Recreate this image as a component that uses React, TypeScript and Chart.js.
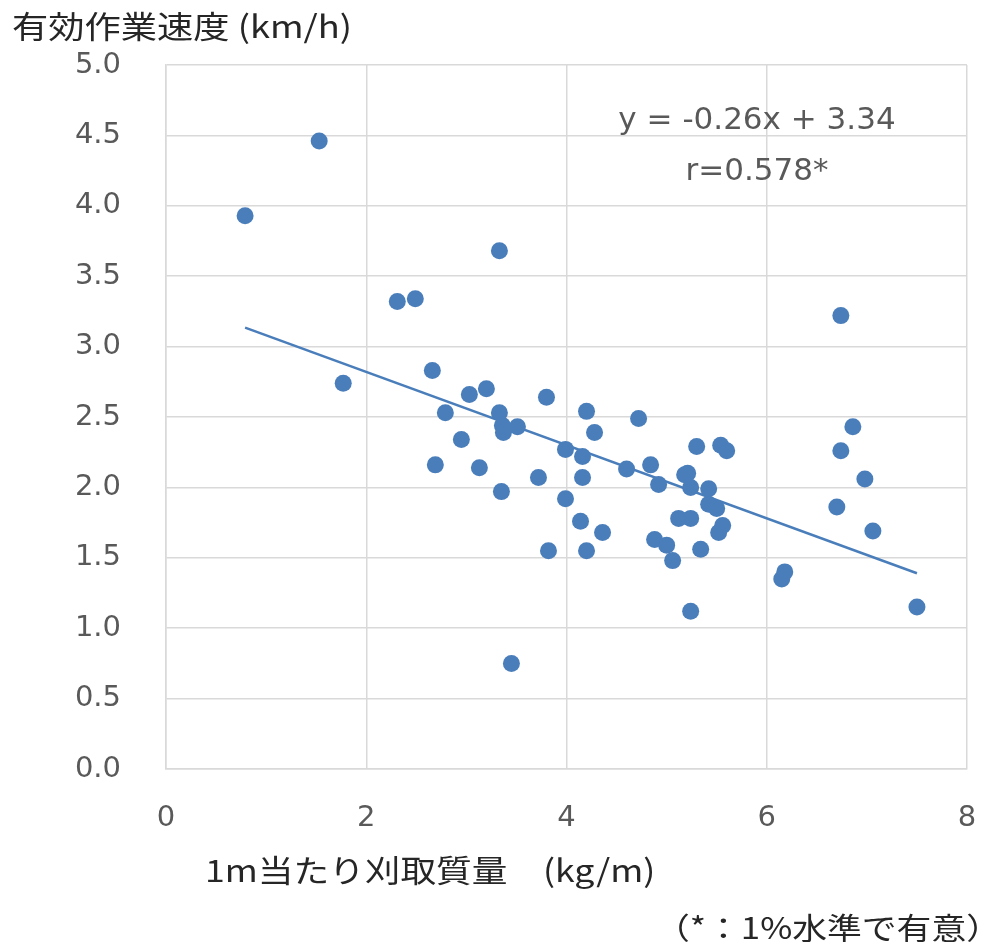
import React, { useEffect, useRef } from "react";
import { Chart, registerables } from "chart.js";

Chart.register(...registerables);

// 1m当たり刈取質量 (kg/m)
const xValues: number[] = [
  0.79, 1.53, 1.77, 2.31, 2.49, 3.33, 2.66, 2.79, 2.95, 2.69,
  3.03, 3.20, 3.13, 3.33, 3.36, 3.37, 3.51, 3.35, 3.45, 3.80,
  3.72, 3.82, 3.99, 3.99, 4.20, 4.28, 4.16, 4.16, 4.14, 4.20,
  4.36, 4.72, 4.60, 4.84, 4.92, 4.88, 5.00, 5.06, 5.30, 5.18,
  5.21, 5.24, 5.12, 5.24, 5.34, 5.24, 5.42, 5.42, 5.50, 5.54,
  5.60, 5.56, 5.52, 6.15, 6.18, 6.74, 6.86, 6.74, 6.98, 6.70,
  7.06, 7.50,
];
// 有効作業速度 (km/h)
const yValues: number[] = [
  3.93, 4.46, 2.74, 3.32, 3.34, 3.68, 2.83, 2.53, 2.34, 2.16,
  2.66, 2.70, 2.14, 2.53, 2.44, 2.39, 2.43, 1.97, 0.75, 2.64,
  2.07, 1.55, 2.27, 1.92, 2.54, 2.39, 2.22, 2.07, 1.76, 1.55,
  1.68, 2.49, 2.13, 2.16, 2.02, 1.63, 1.59, 1.48, 2.29, 2.09,
  2.10, 2.00, 1.78, 1.78, 1.56, 1.12, 1.99, 1.88, 1.85, 2.30,
  2.26, 1.73, 1.68, 1.35, 1.40, 3.22, 2.43, 2.26, 2.06, 1.86,
  1.69, 1.15,
];

// Regression line as printed on the chart
const slope = -0.26;
const intercept = 3.34;
const equationLabel = "y = -0.26x + 3.34";
const correlationLabel = "r=0.578*";

const xTicks = { min: 0, max: 8, step: 2 };
const yTicks = { min: 0, max: 5, step: 0.5 };

const yTitle = "有効作業速度 (km/h)";
const xTitle = "1m当たり刈取質量\u3000(kg/m)";
const footnote = "（*：1%水準で有意）";

const BLUE = "#4A7EBB";
const GRID = "#D9D9D9";
const TICK = "#595959";
const NUM_FONT = "'DejaVu Sans', sans-serif";
const JP_FONT = "'Noto Sans CJK JP', sans-serif";

export default function App() {
  const ref = useRef<HTMLCanvasElement | null>(null);

  useEffect(() => {
    if (!ref.current) return;
    const points = xValues.map((x, i) => ({ x, y: yValues[i] }));
    const xMin = Math.min(...xValues);
    const xMax = Math.max(...xValues);
    const trend = [
      { x: xMin, y: slope * xMin + intercept },
      { x: xMax, y: slope * xMax + intercept },
    ];

    const stretchText = (ctx: any, text: string, x: number, y: number, sx: number) => {
      ctx.save();
      ctx.translate(x, y);
      ctx.scale(sx, 1);
      ctx.fillText(text, 0, 0);
      ctx.restore();
    };

    const textPlugin = {
      id: "texts",
      afterDraw(chart: any) {
        const ctx = chart.ctx;
        const a = chart.chartArea;
        ctx.save();
        // annotation
        ctx.fillStyle = TICK;
        ctx.font = `31px ${NUM_FONT}`;
        ctx.textAlign = "center";
        ctx.textBaseline = "middle";
        ctx.fillText(equationLabel, a.left + 591, a.top + 56);
        ctx.fillText(correlationLabel, a.left + 591, a.top + 107);
        // titles
        ctx.fillStyle = "#262626";
        ctx.font = `31px ${JP_FONT}`;
        ctx.textAlign = "left";
        stretchText(ctx, yTitle, 4, a.top - 39, 1.17);
        stretchText(ctx, xTitle, a.left + 39, a.bottom + 101, 1.15);
        ctx.font = `30px ${JP_FONT}`;
        ctx.textAlign = "right";
        stretchText(ctx, footnote, a.right + 34, a.bottom + 159, 1.16);
        ctx.restore();
      },
    };

    const chart = new Chart(ref.current, {
      type: "scatter",
      data: {
        datasets: [
          {
            type: "scatter",
            data: points,
            backgroundColor: BLUE,
            borderColor: BLUE,
            pointRadius: 8.5,
            pointHoverRadius: 8.5,
            borderWidth: 0,
          },
          {
            type: "line",
            data: trend,
            borderColor: BLUE,
            borderWidth: 2.5,
            pointRadius: 0,
            fill: false,
          } as any,
        ],
      },
      options: {
        animation: false,
        responsive: true,
        maintainAspectRatio: false,
        layout: { padding: { left: 0, top: 57, right: 25, bottom: 0 } },
        plugins: {
          legend: { display: false },
          tooltip: { enabled: false },
        },
        scales: {
          x: {
            type: "linear",
            min: xTicks.min,
            max: xTicks.max,
            afterFit: (s: any) => {
              s.height = 173;
              s.paddingLeft = 0;
              s.paddingRight = 0;
            },
            ticks: {
              stepSize: xTicks.step,
              color: TICK,
              padding: 32,
              font: { size: 29, family: NUM_FONT },
            },
            grid: { color: GRID, lineWidth: 1.5, drawTicks: false },
            border: { color: GRID, width: 1.5 },
          },
          y: {
            type: "linear",
            min: yTicks.min,
            max: yTicks.max,
            afterFit: (s: any) => {
              s.width = 158;
              s.paddingTop = 0;
              s.paddingBottom = 0;
            },
            ticks: {
              stepSize: yTicks.step,
              color: TICK,
              padding: 45,
              font: { size: 29, family: NUM_FONT },
              callback: (v: any) => Number(v).toFixed(1),
            },
            grid: { color: GRID, lineWidth: 1.5, drawTicks: false },
            border: { color: GRID, width: 1.5 },
          },
        },
      },
      plugins: [textPlugin],
    });
    return () => chart.destroy();
  }, []);

  return (
    <div style={{ position: "relative", width: 984, height: 934 }}>
      <canvas ref={ref} />
    </div>
  );
}
